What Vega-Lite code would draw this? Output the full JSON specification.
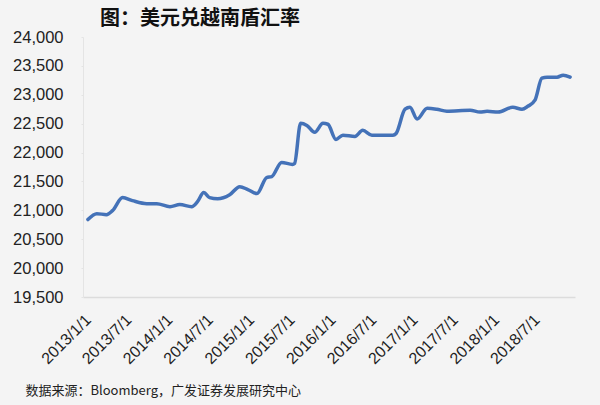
{
  "$schema": "https://vega.github.io/schema/vega-lite/v6.json",
  "autosize": "none",
  "width": 492,
  "height": 260,
  "padding": {"left": 83, "top": 37, "right": 25, "bottom": 108},
  "background": "#f4f4f4",
  "config": {"view": {"stroke": null}, "font": "Liberation Sans"},
  "title": {
    "text": "图：美元兑越南盾汇率",
    "font": "Noto Sans CJK SC",
    "fontSize": 20,
    "fontWeight": "bold",
    "color": "#111",
    "anchor": "start",
    "frame": "group",
    "dx": 17,
    "offset": 0
  },
  "data": {
    "values": [
      {"date": "2013-01-01", "rate": 20840},
      {"date": "2013-02-10", "rate": 20943},
      {"date": "2013-03-25", "rate": 20925},
      {"date": "2013-04-21", "rate": 20995},
      {"date": "2013-06-05", "rate": 21220},
      {"date": "2013-07-19", "rate": 21168},
      {"date": "2013-09-21", "rate": 21115},
      {"date": "2013-11-05", "rate": 21115},
      {"date": "2014-01-03", "rate": 21064},
      {"date": "2014-02-16", "rate": 21100},
      {"date": "2014-04-10", "rate": 21064},
      {"date": "2014-05-06", "rate": 21150},
      {"date": "2014-06-03", "rate": 21307},
      {"date": "2014-06-29", "rate": 21220},
      {"date": "2014-08-04", "rate": 21200},
      {"date": "2014-09-27", "rate": 21270},
      {"date": "2014-11-11", "rate": 21410},
      {"date": "2014-12-17", "rate": 21360},
      {"date": "2015-01-27", "rate": 21290},
      {"date": "2015-03-11", "rate": 21568},
      {"date": "2015-04-03", "rate": 21585},
      {"date": "2015-05-17", "rate": 21830},
      {"date": "2015-07-05", "rate": 21794},
      {"date": "2015-07-14", "rate": 21810},
      {"date": "2015-08-10", "rate": 22506},
      {"date": "2015-09-07", "rate": 22470},
      {"date": "2015-10-12", "rate": 22350},
      {"date": "2015-11-18", "rate": 22506},
      {"date": "2015-12-10", "rate": 22490},
      {"date": "2016-01-15", "rate": 22228},
      {"date": "2016-02-15", "rate": 22300},
      {"date": "2016-04-09", "rate": 22280},
      {"date": "2016-05-14", "rate": 22385},
      {"date": "2016-06-24", "rate": 22300},
      {"date": "2016-09-26", "rate": 22300},
      {"date": "2016-10-10", "rate": 22330},
      {"date": "2016-11-19", "rate": 22750},
      {"date": "2016-12-11", "rate": 22784},
      {"date": "2017-01-12", "rate": 22580},
      {"date": "2017-02-26", "rate": 22767},
      {"date": "2017-04-10", "rate": 22750},
      {"date": "2017-05-25", "rate": 22715},
      {"date": "2017-09-06", "rate": 22732},
      {"date": "2017-10-20", "rate": 22700},
      {"date": "2017-11-21", "rate": 22715},
      {"date": "2018-01-09", "rate": 22700},
      {"date": "2018-03-16", "rate": 22784},
      {"date": "2018-04-26", "rate": 22750},
      {"date": "2018-05-22", "rate": 22800},
      {"date": "2018-06-23", "rate": 22906},
      {"date": "2018-07-24", "rate": 23288},
      {"date": "2018-08-16", "rate": 23305},
      {"date": "2018-09-30", "rate": 23305},
      {"date": "2018-10-27", "rate": 23340},
      {"date": "2018-11-27", "rate": 23305}
    ]
  },
  "mark": {"type": "line", "interpolate": "monotone", "color": "#4472b8", "strokeWidth": 3.5, "strokeCap": "round"},
  "encoding": {
    "x": {
      "field": "date",
      "type": "temporal",
      "scale": {"domain": ["2012-12-10", "2018-12-19"]},
      "axis": {
        "values": ["2013-01-01", "2013-07-01", "2014-01-01", "2014-07-01", "2015-01-01", "2015-07-01", "2016-01-01", "2016-07-01", "2017-01-01", "2017-07-01", "2018-01-01", "2018-07-01"],
        "labelExpr": "timeFormat(datum.value, '%Y/') + (month(datum.value) + 1) + '/1'",
        "labelAngle": -45,
        "labelAlign": "right",
        "labelBaseline": "middle",
        "labelOverlap": false,
        "labelFontSize": 16,
        "labelColor": "#222",
        "labelPadding": 20,
        "ticks": false,
        "grid": false,
        "domainColor": "#dcdcdc",
        "domainWidth": 1.5,
        "title": "数据来源：Bloomberg，广发证券发展研究中心",
        "titleFont": "Noto Sans CJK SC",
        "titleFontSize": 13,
        "titleFontWeight": "normal",
        "titleColor": "#222",
        "titleAnchor": "start",
        "titleAlign": "left",
        "titleBaseline": "middle",
        "titleX": -58,
        "titleY": 93
      }
    },
    "y": {
      "field": "rate",
      "type": "quantitative",
      "scale": {"domain": [19500, 24000], "nice": false, "zero": false},
      "axis": {
        "values": [19500, 20000, 20500, 21000, 21500, 22000, 22500, 23000, 23500, 24000],
        "format": ",.0f",
        "labelFontSize": 16.5,
        "labelColor": "#222",
        "labelPadding": 18,
        "labelOverlap": false,
        "ticks": true,
        "tickSize": 2,
        "tickColor": "#e4e4e4",
        "grid": false,
        "domainColor": "#e4e4e4",
        "title": null
      }
    }
  }
}
